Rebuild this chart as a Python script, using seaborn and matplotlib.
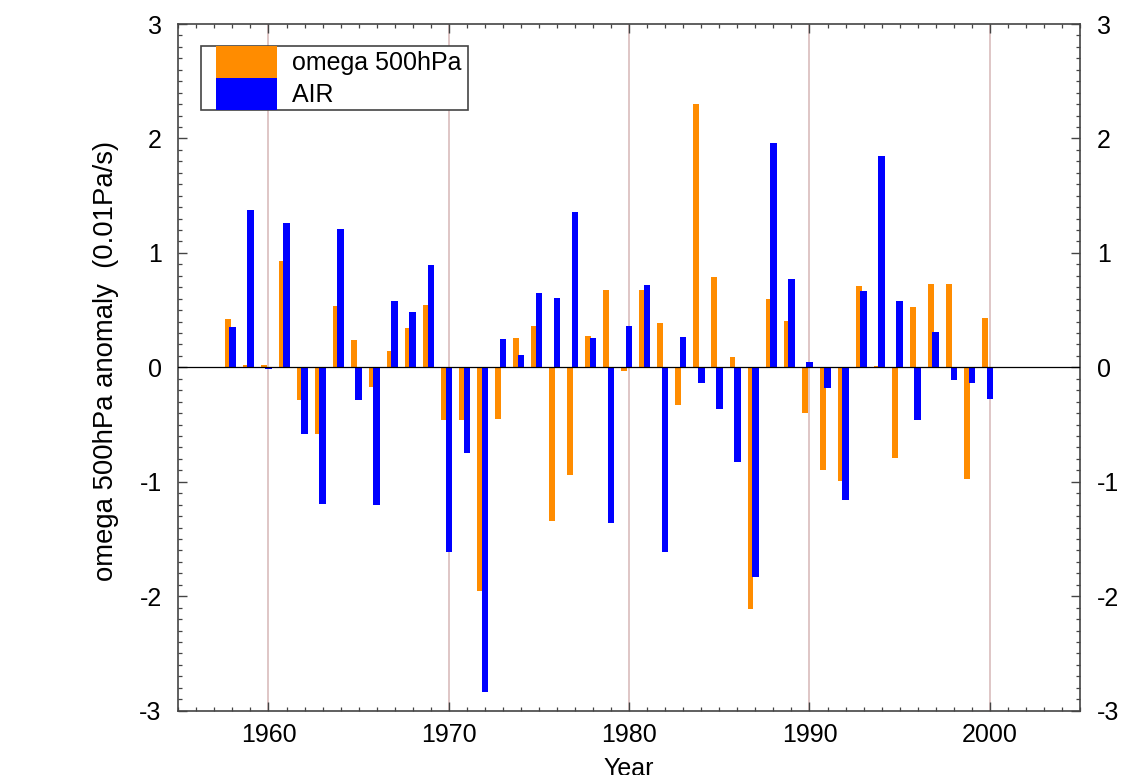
import numpy as np
import pandas as pd
import matplotlib
matplotlib.use("Agg")
import matplotlib.pyplot as plt
from matplotlib.patches import Patch, Rectangle
from matplotlib.legend_handler import HandlerPatch
from matplotlib.ticker import MultipleLocator
import seaborn as sns

years = list(range(1958, 2001))
omega = [0.42, 0.02, 0.02, 0.93, -0.285, -0.578, 0.54, 0.237, -0.168, 0.143,
         0.345, 0.547, -0.46, -0.456, -1.95, -0.453, 0.26, 0.363, -1.343, -0.942,
         0.275, 0.678, -0.032, 0.678, 0.386, -0.326, 2.298, 0.792, 0.091, -2.11,
         0.60, 0.404, -0.40, -0.90, -0.997, 0.713, 0.012, -0.791, 0.523, 0.725,
         0.731, -0.974, 0.433]
air = [0.35, 1.377, -0.017, 1.257, -0.578, -1.195, 1.205, -0.288, -1.204, 0.58,
       0.485, 0.89, -1.61, -0.744, -2.834, 0.249, 0.108, 0.652, 0.608, 1.36,
       0.254, -1.363, 0.36, 0.719, -1.613, 0.266, -0.134, -0.36, -0.831, -1.83,
       1.959, 0.775, 0.047, -0.183, -1.16, 0.67, 1.848, 0.576, -0.464, 0.307,
       -0.11, -0.136, -0.278]
series_labels = ["omega 500hPa", "AIR"]
xticks = [1960, 1970, 1980, 1990, 2000]
yticks = [-3, -2, -1, 0, 1, 2, 3]

ORANGE = "#ff8c00"
BLUE = "#0000ff"
FS = 18

plt.rcParams["font.family"] = ["Liberation Sans", "DejaVu Sans"]

df = pd.DataFrame({"year": np.array(years, dtype=float), "omega": omega, "air": air})
df["year_o"] = df["year"] - 0.27

fig = plt.figure(figsize=(11.23, 7.75), dpi=100)
ax = fig.add_axes([178.3 / 1123, (775 - 710.7) / 775, (1080 - 178.3) / 1123, (710.7 - 24) / 775])

sns.barplot(data=df, x="year_o", y="omega", native_scale=True, width=0.33,
            color=ORANGE, saturation=1, linewidth=0, errorbar=None, ax=ax, zorder=2)
sns.barplot(data=df, x="year", y="air", native_scale=True, width=0.36,
            color=BLUE, saturation=1, linewidth=0, errorbar=None, ax=ax, zorder=2)

ax.set_xlim(1955, 2005)
ax.set_ylim(-3, 3)
ax.axhline(0, color="black", lw=0.9, zorder=3)
for xv in xticks:
    ax.axvline(xv, color="#dcc2c2", lw=1.3, zorder=1)

ax.xaxis.set_minor_locator(MultipleLocator(1))
ax.set_xticks(xticks)
ax.set_yticks(yticks)
ax.yaxis.set_minor_locator(MultipleLocator(0.1))
ax.set_xticklabels([str(v) for v in xticks])
ax.set_yticklabels([str(v) for v in yticks])
ax.tick_params(which="both", direction="in", top=True, right=True,
               labelright=True, color="#444444", labelsize=FS)
ax.tick_params(which="major", length=6.5, width=1.0)
ax.tick_params(which="minor", length=3, width=0.9)
ax.tick_params(axis="y", which="major", pad=12)
ax.tick_params(axis="x", which="major", pad=9)
for s in ax.spines.values():
    s.set_color("#444444")
    s.set_linewidth(1.2)

ax.set_xlabel("Year", fontsize=FS)
ax.set_ylabel("omega 500hPa anomaly  (0.01Pa/s)", fontsize=19.8)
ax.xaxis.set_label_coords(0.5, -0.067)
ax.xaxis.label.set_va("top")
ax.yaxis.set_label_coords(-0.066, 0.509)


def make_rect(legend, orig_handle, xdescent, ydescent, width, height, fontsize):
    pad = 0.6 * fontsize
    return Rectangle((-xdescent + pad, -ydescent), width - pad, height)


handles = [Patch(facecolor=ORANGE, edgecolor="none"), Patch(facecolor=BLUE, edgecolor="none")]
fs_px = FS * 100 / 72
hh = (32 / fs_px - 0.245) / 0.65
leg = ax.legend(handles, [s + " " for s in series_labels], loc="upper left",
                bbox_to_anchor=((200.7 - 178.3) / 901.7, (710.7 - 46) / 686.7),
                borderaxespad=0, borderpad=0, labelspacing=0,
                handleheight=hh, handlelength=76 / fs_px, handletextpad=0.6,
                fontsize=FS, fancybox=False, framealpha=1, edgecolor="#444444",
                handler_map={Patch: HandlerPatch(patch_func=make_rect)})
leg.get_frame().set_linewidth(1.2)
leg.set_zorder(5)

fig.savefig("out.png", dpi=100)
